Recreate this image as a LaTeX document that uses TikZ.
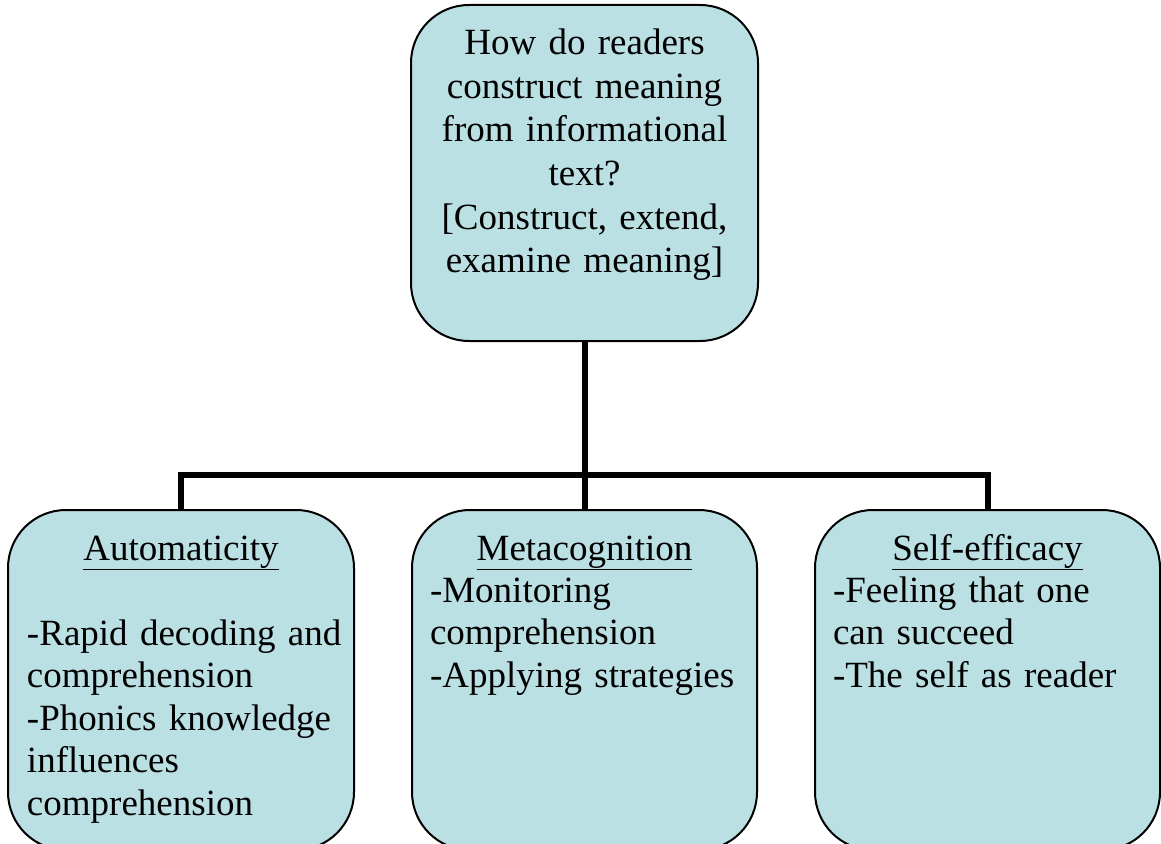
\documentclass[tikz,border=0pt]{standalone}
\usepackage{fontspec}
\setmainfont{Liberation Serif}
\definecolor{boxfill}{RGB}{187,224,227}
\begin{document}
\begin{tikzpicture}[x=1pt,y=-1pt,
  box/.style={draw=black,line width=2pt,fill=boxfill,rounded corners=58pt,inner sep=0pt,outer sep=0pt},
  conn/.style={draw=black,line width=6pt,line join=miter},
  txt/.style={inner sep=0pt,outer sep=0pt,font=\fontsize{37}{42.5}\selectfont},
  toptxt/.style={inner sep=0pt,outer sep=0pt,font=\fontsize{37}{43.5}\selectfont}]
\useasboundingbox (0,0) rectangle (1161,843);
\node[box,minimum width=347pt,minimum height=336pt] (top) at (584.5,173) {};
\node[box,minimum width=346pt,minimum height=340pt] (a) at (181,680) {};
\node[box,minimum width=345pt,minimum height=340pt] (b) at (584.5,680) {};
\node[box,minimum width=345pt,minimum height=340pt] (c) at (987.5,680) {};
\coordinate (hub) at (584.5,475);
\draw[conn] (top.south) -- (b.north);
\draw[conn] (a.north) |- (hub) -| (c.north);
\node[toptxt,text width=340pt,align=center,anchor=base] (toptext) at (584.5,55)
  {How do readers\\construct meaning\\from informational\\text?\\{[}Construct, extend,\\examine meaning]};
\node[txt,anchor=base] (ah) at (181,560) {\underline{Automaticity}};
\node[txt,anchor=base] (bh) at (584.5,560) {\underline{Metacognition}};
\node[txt,anchor=base] (ch) at (987.5,560) {\underline{Self-efficacy}};
\node[txt,text width=330pt,align=left,anchor=base west] (at) at (27,645)
  {-Rapid decoding and\\comprehension\\-Phonics knowledge\\influences\\comprehension};
\node[txt,text width=330pt,align=left,anchor=base west] (bt) at (430,602)
  {-Monitoring\\comprehension\\-Applying strategies};
\node[txt,text width=330pt,align=left,anchor=base west] (ct) at (833,602)
  {-Feeling that one\\can succeed\\-The self as reader};
\end{tikzpicture}
\end{document}
